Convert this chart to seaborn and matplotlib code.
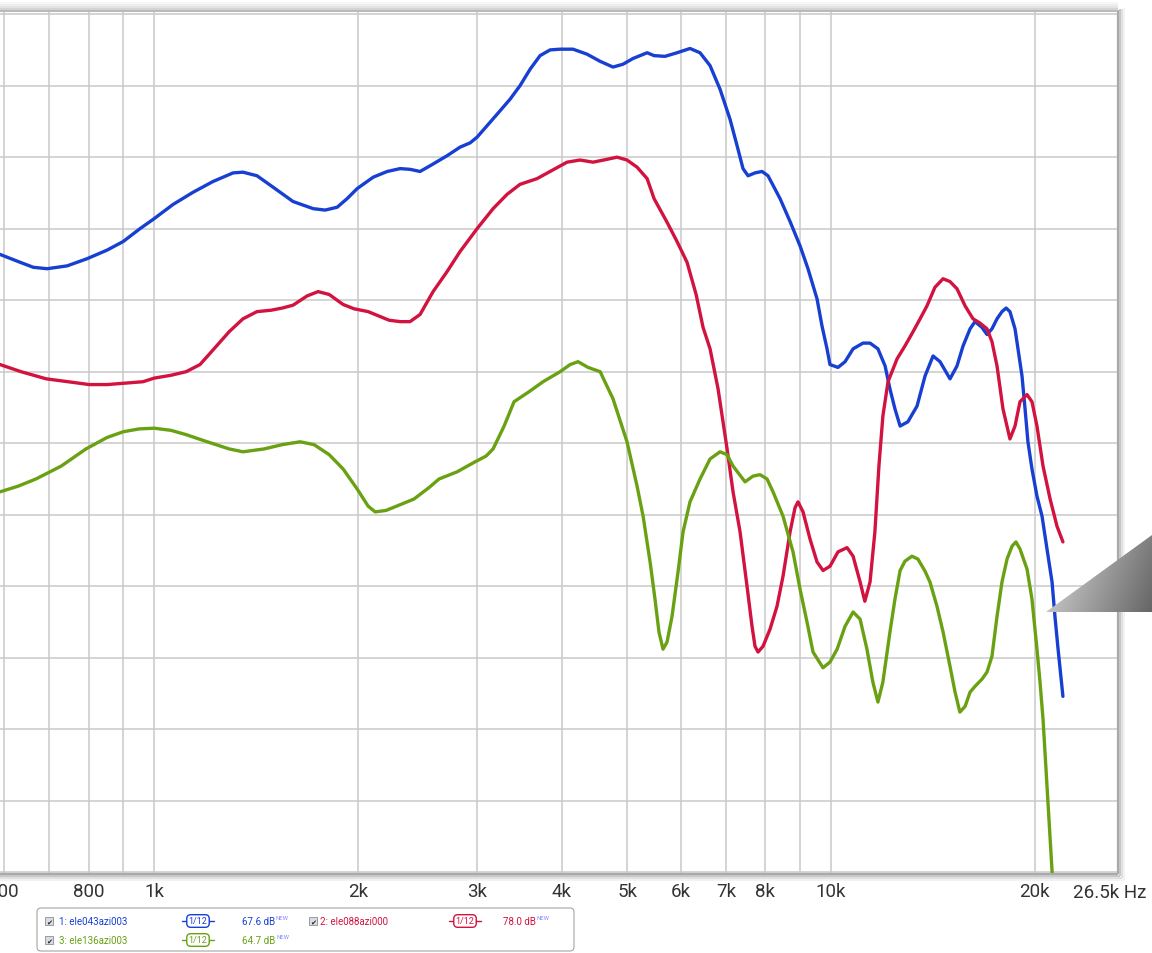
import numpy as np
import pandas as pd
import matplotlib
matplotlib.use("Agg")
import matplotlib.pyplot as plt
import seaborn as sns
from matplotlib.ticker import FixedLocator, NullFormatter
from matplotlib.patches import FancyBboxPatch, Rectangle, Polygon

# ---- measured responses (frequency in Hz, level in dB) ----
freq_1 = [592, 634, 663, 695, 744, 796, 852, 900, 953, 1000, 1067, 1142, 1222, 1308, 1353,
          1419, 1499, 1604, 1718, 1789, 1864, 1928, 1995, 2107, 2210, 2309, 2388, 2471, 2557,
          2709, 2831, 2930, 3000, 3104, 3211, 3356, 3472, 3593, 3717, 3846, 3979, 4158, 4361,
          4560, 4764, 4929, 5099, 5350, 5478, 5686, 5923, 6190, 6405, 6627, 6856, 7093, 7265,
          7413, 7541, 7722, 7909, 8071, 8409, 8700, 9000, 9247, 9535, 9698, 9865, 9965, 10240,
          10490, 10780, 11150, 11420, 11730, 12020, 12220, 12430, 12650, 12990, 13400, 13770,
          14150, 14490, 14990, 15350, 15670, 16050, 16320, 16710, 17000, 17290, 17590, 17890,
          18140, 18380, 18700, 18890, 19150, 19350, 19540, 19810, 20150, 20500, 20850, 21210,
          21420, 21650, 22010]
spl_1 = [68.2, 67.65, 67.3, 67.2, 67.4, 67.9, 68.5, 69.1, 70.0, 70.7, 71.7, 72.55, 73.3, 73.9, 73.95,
         73.7, 72.9, 71.9, 71.4, 71.3, 71.5, 72.1, 72.8, 73.6, 74.0, 74.2, 74.15, 74.0, 74.4,
         75.1, 75.7, 76.0, 76.4, 77.2, 78.0, 79.05, 80.0, 81.15, 82.1, 82.5, 82.55, 82.55, 82.2,
         81.7, 81.3, 81.5, 81.9, 82.3, 82.1, 82.05, 82.3, 82.6, 82.3, 81.4, 79.75, 77.65, 75.8,
         74.2, 73.7, 73.9, 74.0, 73.7, 72.1, 70.5, 68.8, 67.2, 65.1, 63.2, 61.6, 60.5, 60.3,
         60.7, 61.6, 62.0, 62.0, 61.6, 60.4, 58.8, 57.4, 56.2, 56.5, 57.6, 59.7,
         61.1, 60.7, 59.5, 60.4, 61.8, 63.0, 63.5, 63.1, 62.6, 63.0, 63.7, 64.2,
         64.45, 64.2, 63.0, 61.6, 59.7, 57.4, 55.1, 53.2, 51.3, 49.9, 47.6, 45.3,
         42.9, 40.6, 37.3]

freq_2 = [592, 636, 693, 746, 802, 852, 906, 963, 1000, 1059, 1115, 1169, 1226, 1291, 1353,
          1419, 1489, 1546, 1604, 1683, 1747, 1814, 1902, 1974, 2071, 2121, 2224, 2309, 2388,
          2471, 2583, 2709, 2831, 3000, 3168, 3322, 3472, 3679, 3846, 4074, 4259, 4451, 4668,
          4830, 4996, 5170, 5350, 5478, 5725, 5923, 6128, 6320, 6471, 6627, 6810, 7022, 7166,
          7339, 7515, 7644, 7722, 7802, 7935, 8127, 8322, 8494, 8700, 8849, 8939, 9092, 9311,
          9535, 9732, 9966, 10240, 10560, 10780, 11040, 11220, 11420, 11610, 11770, 11930,
          12140, 12520, 12860, 13220, 13540, 13860, 14240, 14640, 14990, 15350, 15780, 16210,
          16600, 17000, 17290, 17590, 17950, 18380, 18700, 19020, 19480, 19810, 20150, 20570,
          21070, 21570, 22010]
spl_2 = [60.5, 60.0, 59.5, 59.3, 59.1, 59.1, 59.2, 59.3, 59.55, 59.75, 60.0, 60.5, 61.6, 62.8, 63.7,
         64.2, 64.3, 64.45, 64.65, 65.3, 65.6, 65.4, 64.7, 64.4, 64.2, 64.0, 63.6, 63.5, 63.5,
         64.0, 65.6, 67.0, 68.4, 70.0, 71.4, 72.4, 73.1, 73.5, 74.0, 74.65, 74.8, 74.65, 74.85,
         75.0, 74.8, 74.3, 73.5, 72.1, 70.45, 69.1, 67.65, 65.4, 63.1, 61.6, 58.8, 54.6, 51.6,
         48.8, 45.0, 42.2, 40.8, 40.4, 40.8, 42.0, 43.6, 45.7, 48.8, 50.5, 50.9, 50.2, 48.3,
         46.7, 46.1, 46.4, 47.4, 47.7, 47.1, 45.3, 43.95, 45.3, 48.8, 53.4, 56.9,
         59.3, 60.9, 61.8, 62.8, 63.7, 64.6, 65.9, 66.5, 66.3, 65.8, 64.6, 63.7,
         63.4, 63.0, 62.1, 60.4, 57.4, 55.3, 56.2, 57.9, 58.4, 57.9, 56.2, 53.4,
         51.1, 49.2, 48.1]

freq_3 = [592, 630, 669, 729, 793, 852, 900, 950, 1000, 1059, 1115, 1198, 1291, 1353, 1454,
          1546, 1643, 1723, 1814, 1902, 1995, 2071, 2121, 2201, 2309, 2421, 2548, 2636, 2803,
          2980, 3093, 3168, 3289, 3402, 3580, 3755, 3979, 4117, 4230, 4376, 4560, 4764, 4996,
          5170, 5277, 5404, 5495, 5570, 5647, 5725, 5823, 5943, 6045, 6190, 6405, 6627, 6856,
          7022, 7166, 7465, 7670, 7855, 8045, 8210, 8494, 8788, 9000, 9216, 9406, 9732, 9966,
          10210, 10490, 10780, 11040, 11300, 11530, 11730, 11930, 12220, 12430, 12650, 12860,
          13170, 13440, 13770, 14000, 14340, 14640, 14990, 15250, 15500, 15780, 16050, 16320,
          16710, 17000, 17290, 17590, 17890, 18200, 18510, 18760, 19020, 19480, 19810, 20150,
          20360, 20570, 21210, 21650]
spl_3 = [51.6, 52.0, 52.5, 53.4, 54.6, 55.4, 55.8, 56.0, 56.05, 55.9, 55.6, 55.1, 54.6, 54.4, 54.6,
         54.9, 55.1, 54.9, 54.2, 53.2, 51.8, 50.6, 50.2, 50.3, 50.7, 51.1, 51.9, 52.5, 53.0,
         53.7, 54.1, 54.6, 56.2, 57.9, 58.6, 59.3, 60.0, 60.5, 60.7, 60.3, 60.0, 58.1, 55.1,
         52.0, 49.9, 46.7, 44.1, 41.8, 40.6, 41.1, 42.9, 46.0, 48.8, 50.9, 52.5, 53.9, 54.4,
         54.2, 53.4, 52.3, 52.7, 52.8, 52.5, 51.6, 49.9, 47.4, 44.8, 42.5, 40.4, 39.3, 39.7,
         40.6, 42.2, 43.2, 42.7, 40.6, 38.3, 36.9, 38.3, 41.8, 44.1, 46.1, 46.75,
         47.1, 46.9, 46.05, 45.3, 43.6, 41.8, 39.4, 37.6, 36.2, 36.6, 37.6, 38.0,
         38.5, 39.0, 40.1, 42.9, 45.3, 46.9, 47.8, 48.1, 47.6, 46.2, 44.1, 40.6,
         38.3, 35.7, 25.1, 17.9]

series_names = ["1: ele043azi003", "2: ele088azi000", "3: ele136azi003"]
series_colors = ["#173fd2", "#d2123f", "#69a113"]
series_levels = ["67.6 dB", "78.0 dB", "64.7 dB"]
smoothing_label = "1/12"
new_tag = "NEW"

tick_freqs = [600, 800, 1000, 2000, 3000, 4000, 5000, 6000, 7000, 8000, 10000, 20000]
tick_labels = ["600", "800", "1k", "2k", "3k", "4k", "5k", "6k", "7k", "8k", "10k", "20k"]
minor_freqs = [700, 900, 9000]
end_label = "26.5k Hz"
level_grid = list(range(25, 90, 5))

# ---- long-format table for seaborn ----
frames = []
for name, f, s in zip(series_names, [freq_1, freq_2, freq_3], [spl_1, spl_2, spl_3]):
    frames.append(pd.DataFrame({"freq": f, "spl": s, "series": name}))
df = pd.concat(frames, ignore_index=True)

sns.set_theme(style="white")
plt.rcParams["font.family"] = ["Roboto", "DejaVu Sans"]

W, H = 1152, 954
fig = plt.figure(figsize=(W / 100, H / 100), dpi=100, facecolor="white")
ax = fig.add_axes([0, 80 / H, 1117.5 / W, 861 / H])
ax.set_facecolor("white")

sns.lineplot(data=df, x="freq", y="spl", hue="series",
             palette=dict(zip(series_names, series_colors)),
             estimator=None, sort=False, lw=2.4, legend=False, ax=ax)
for ln in ax.get_lines():
    ln.set_solid_joinstyle("round")
    ln.set_solid_capstyle("round")

ax.set_xscale("log")
ax.set_xlim(592, 26500)
ax.set_ylim(24.95, 85.15)
ax.xaxis.set_major_locator(FixedLocator(tick_freqs))
ax.set_xticklabels(tick_labels)
ax.xaxis.set_minor_locator(FixedLocator(minor_freqs))
ax.xaxis.set_minor_formatter(NullFormatter())
ax.set_yticks(level_grid)
ax.tick_params(axis="y", left=False, labelleft=False)
ax.tick_params(axis="x", which="both", length=0, pad=6.5, labelsize=13.5, labelcolor="#333333")
ax.grid(True, which="both", color="#c9c9c9", lw=1.1)
ax.set_axisbelow(True)
ax.set_xlabel("")
ax.set_ylabel("")
for sp in ax.spines.values():
    sp.set_visible(False)

# ---- overlay in pixel coordinates: frame, legend, end label ----
ov = fig.add_axes([0, 0, 1, 1], zorder=5)
ov.patch.set_alpha(0)
ov.axis("off")

# frame edges with soft shadow
for off, col, lw in [(0, "#a9a9a9", 1.6), (2.2, "#c6c6c6", 1.4), (4.0, "#e0e0e0", 1.4), (5.6, "#f0f0f0", 1.2)]:
    ov.plot([1118 + off, 1118 + off], [11 - off * 0.3, 875 + off], color=col, lw=lw, solid_capstyle="butt")
    ov.plot([0, 1118 + off], [875 + off, 875 + off], color=col, lw=lw, solid_capstyle="butt")
for yy, col in [(12, "#b9b9b9"), (10, "#d3d3d3"), (8, "#e3e3e3"), (6, "#eeeeee"), (4, "#f6f6f6")]:
    ov.plot([0, 1118], [yy, yy], color=col, lw=1.4, solid_capstyle="butt")

ov.text(1073, 893, end_label, fontsize=13.5, color="#333333", ha="left", va="center")

# legend panel
ov.add_patch(FancyBboxPatch((37, 909), 537, 43, boxstyle="round,pad=0,rounding_size=4",
                            fc="white", ec="#a5a5a5", lw=0.8))
rows = [922, 941]
cols = [(49, 59, 198, 242), (313, 320, 465, 503)]
slots = [(0, 0), (0, 1), (1, 0)]
for (r, c), name, color, level in zip(slots, series_names, series_colors, series_levels):
    y = rows[r]
    cbx, lx, bx, vx = cols[c]
    ov.add_patch(Rectangle((cbx - 4, y - 4), 8, 8, fc="#d9dde3", ec="#8a8f96", lw=0.6))
    ov.text(cbx, y + 0.3, "\u2714", fontsize=5.2, color="#222222", ha="center", va="center",
            family="DejaVu Sans")
    ov.text(lx, y, name, fontsize=7, color=color, ha="left", va="center")
    ov.plot([bx - 16, bx - 10], [y, y], color=color, lw=1.0)
    ov.plot([bx + 10, bx + 16], [y, y], color=color, lw=1.0)
    ov.text(bx, y, smoothing_label, fontsize=6.5, color=color, ha="center", va="center",
            bbox=dict(boxstyle="round,pad=0.2,rounding_size=0.45", fc="white", ec=color, lw=1.0))
    t = ov.text(vx, y, level, fontsize=7, color=color, ha="left", va="center")
    ov.annotate(new_tag, xy=(1, 1), xycoords=t, xytext=(0.6, 0.5), textcoords="offset points",
                fontsize=4.3, color="#8a8cff", ha="left", va="top")

# grey wedge at the right edge
gx = np.linspace(0, 1, 80)[None, :]
gy = np.linspace(0, 1, 60)[:, None]
shade = 0.86 - 0.36 * gx - 0.10 * gy
im = ov.imshow(shade, extent=[1046, 1152, 613, 536], cmap="gray", vmin=0, vmax=1,
               aspect="auto", interpolation="bilinear", zorder=6)
wedge = Polygon([(1046, 613), (1152, 536), (1152, 613)], closed=True, fc="none", ec="none",
                transform=ov.transData)
ov.add_patch(wedge)
im.set_clip_path(wedge)

ov.set_xlim(0, W)
ov.set_ylim(H, 0)

fig.savefig("out.png", dpi=100, facecolor="white")
